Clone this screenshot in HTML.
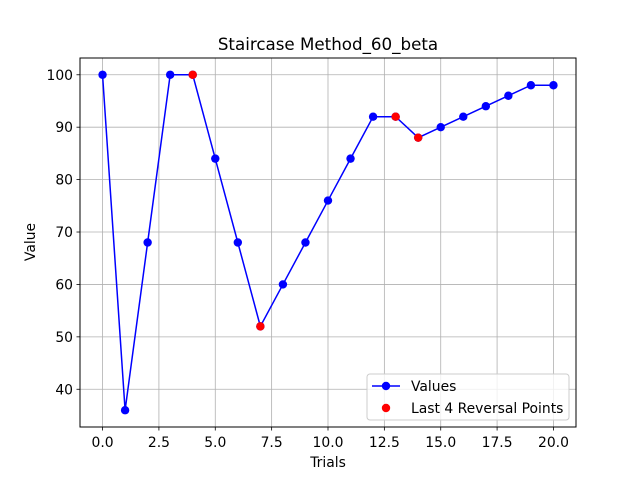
<!DOCTYPE html>
<html><head><meta charset="utf-8"><style>
body{margin:0;background:#fff;font-family:"Liberation Sans","DejaVu Sans",sans-serif;}
svg text{font-family:"DejaVu Sans","Liberation Sans",sans-serif;}
</style></head><body>
<svg id="chart" width="640" height="480" xmlns="http://www.w3.org/2000/svg">
<rect width="640" height="480" fill="#fff"/>
<g id="grid"></g>
<g id="series"></g>
<rect x="80" y="58" width="496" height="369" fill="none" stroke="#000" stroke-width="1"/>
<g id="ticks"></g>
<text x="328" y="50" font-size="16.7" text-anchor="middle">Staircase Method_60_beta</text>
<text x="328" y="467" font-size="13.9" text-anchor="middle">Trials</text>
<text x="35" y="242" font-size="13.9" text-anchor="middle" transform="rotate(-90 35 242)">Value</text>
<g>
<rect x="367" y="374" width="202" height="46" rx="3" fill="#fff" fill-opacity="0.8" stroke="#ccc"/>
<g>
<line x1="372" y1="386" x2="400" y2="386" stroke="blue" stroke-width="1.5"/>
<circle cx="386" cy="386" r="4.2" fill="blue"/>
<text x="411" y="391" font-size="13.9">Values</text></g>
<g>
<circle cx="386" cy="408" r="4.2" fill="red"/>
<text x="411" y="413" font-size="13.9">Last 4 Reversal Points</text></g>
</g>
</svg>
<script>
const trials=[0,1,2,3,4,5,6,7,8,9,10,11,12,13,14,15,16,17,18,19,20];
const values=[100,36,68,100,100,84,68,52,60,68,76,84,92,92,88,90,92,94,96,98,98];
const reversalTrials=[4,7,13,14];
const reversalValues=[100,52,92,88];
const xTicks=[0,2.5,5,7.5,10,12.5,15,17.5,20];
const xTickLabels=["0.0","2.5","5.0","7.5","10.0","12.5","15.0","17.5","20.0"];
const yTicks=[40,50,60,70,80,90,100];
const yTickLabels=["40","50","60","70","80","90","100"];
const L=80,R=576,T=58,B=427,xmin=-1,xmax=21,ymin=32.8,ymax=103.2;
const X=v=>L+(v-xmin)/(xmax-xmin)*(R-L);
const Y=v=>B-(v-ymin)/(ymax-ymin)*(B-T);
const NS="http://www.w3.org/2000/svg";
function mk(t,a,p){const e=document.createElementNS(NS,t);for(const k in a)e.setAttribute(k,a[k]);p.appendChild(e);return e;}
const g=document.getElementById('grid'),tk=document.getElementById('ticks'),s=document.getElementById('series');
xTicks.forEach((v,i)=>{const x=X(v);
let l=mk('line',{x1:x,y1:T,x2:x,y2:B,stroke:'#b0b0b0','stroke-width':0.8},g);

mk('line',{x1:x,y1:B,x2:x,y2:B+3.5,stroke:'#000','stroke-width':0.8},tk);
let t=mk('text',{x:x,y:B+20,'font-size':13.9,'text-anchor':'middle'},tk);t.textContent=xTickLabels[i];
});
yTicks.forEach((v,i)=>{const y=Y(v);
let l=mk('line',{x1:L,y1:y,x2:R,y2:y,stroke:'#b0b0b0','stroke-width':0.8},g);

mk('line',{x1:L-3.5,y1:y,x2:L,y2:y,stroke:'#000','stroke-width':0.8},tk);
let t=mk('text',{x:L-7,y:y+5,'font-size':13.9,'text-anchor':'end'},tk);t.textContent=yTickLabels[i];
});
let pl=mk('polyline',{points:trials.map((t,i)=>X(t)+','+Y(values[i])).join(' '),fill:'none',stroke:'blue','stroke-width':1.5},s);

trials.forEach((t,i)=>{let c=mk('circle',{cx:X(t),cy:Y(values[i]),r:4.2,fill:'blue'},s);
});
reversalTrials.forEach((t,i)=>{let c=mk('circle',{cx:X(t),cy:Y(reversalValues[i]),r:4.2,fill:'red'},s);
});
</script>
</body></html>
